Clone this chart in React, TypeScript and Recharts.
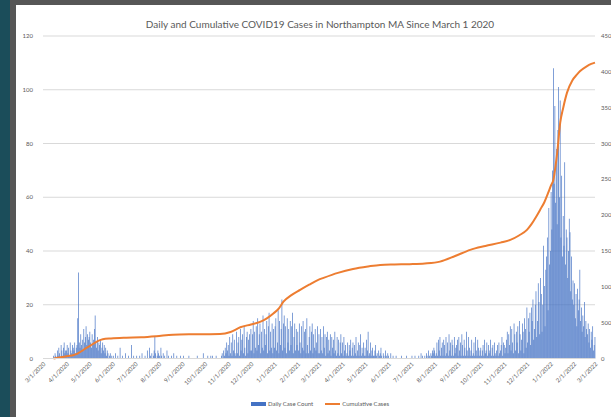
import { ComposedChart, Bar, Line, XAxis, YAxis, CartesianGrid } from 'recharts';

// month tick labels on the date axis
const tickLabels = [
  '3/1/2020', '4/1/2020', '5/1/2020', '6/1/2020', '7/1/2020', '8/1/2020', '9/1/2020',
  '10/1/2020', '11/1/2020', '12/1/2020', '1/1/2021', '2/1/2021', '3/1/2021', '4/1/2021',
  '5/1/2021', '6/1/2021', '7/1/2021', '8/1/2021', '9/1/2021', '10/1/2021', '11/1/2021',
  '12/1/2021', '1/1/2022', '2/1/2022', '3/1/2022',
];

// daily case counts, one array per month
const mar20 = [0, 0, 0, 0, 0, 0, 0, 0, 0, 0, 0, 0, 0, 0, 1, 0, 2, 1, 0, 3, 1, 4, 2, 0, 5, 3, 1, 4, 6, 2, 3];
const apr20 = [3, 5, 2, 4, 1, 6, 3, 2, 5, 4, 3, 6, 2, 4, 5, 15, 32, 6, 4, 9, 5, 7, 3, 11, 6, 8, 12, 5, 9, 7];
const may20 = [8, 10, 6, 4, 9, 5, 7, 11, 16, 6, 4, 8, 3, 6, 5, 7, 2, 4, 6, 3, 5, 2, 4, 1, 3, 2, 0, 1, 2, 0, 1];
const jun20 = [0, 1, 0, 0, 2, 0, 0, 1, 0, 0, 4, 0, 0, 1, 0, 0, 0, 2, 0, 0, 0, 1, 0, 0, 0, 5, 0, 0, 1, 0];
const jul20 = [0, 0, 1, 0, 0, 0, 1, 0, 0, 2, 0, 0, 0, 1, 0, 0, 3, 0, 0, 4, 1, 0, 2, 0, 1, 3, 8, 2, 0, 1, 3];
const aug20 = [2, 1, 0, 4, 1, 0, 2, 0, 1, 0, 0, 3, 0, 1, 0, 0, 0, 1, 0, 0, 2, 0, 0, 0, 1, 0, 0, 0, 0, 1, 0];
const sep20 = [0, 0, 1, 0, 0, 0, 0, 0, 0, 1, 0, 0, 0, 0, 0, 0, 0, 0, 0, 0, 1, 0, 0, 0, 0, 0, 0, 0, 2, 0];
const oct20 = [0, 0, 0, 0, 1, 0, 0, 0, 1, 0, 1, 0, 0, 0, 0, 1, 0, 0, 0, 0, 0, 0, 1, 2, 0, 3, 1, 4, 2, 6, 3];
const nov20 = [5, 1, 8, 2, 6, 1, 9, 3, 7, 2, 1, 10, 2, 6, 8, 1, 11, 3, 7, 9, 2, 12, 4, 1, 8, 10, 2, 7, 9, 3];
const dec20 = [11, 3, 9, 14, 2, 10, 4, 12, 3, 15, 5, 9, 13, 2, 10, 4, 16, 3, 11, 5, 9, 14, 2, 12, 17, 3, 10, 4, 13, 2, 11];
const jan21 = [4, 12, 15, 3, 6, 18, 2, 14, 5, 11, 22, 3, 13, 16, 4, 12, 2, 15, 6, 11, 3, 14, 5, 12, 17, 2, 8, 13, 3, 11, 5];
const feb21 = [10, 3, 13, 6, 2, 12, 4, 14, 3, 10, 11, 2, 15, 5, 2, 8, 12, 3, 10, 13, 2, 9, 4, 11, 3, 6, 12, 2];
const mar21 = [9, 2, 11, 3, 8, 2, 12, 4, 9, 1, 8, 10, 2, 7, 3, 9, 1, 8, 4, 7, 2, 10, 3, 1, 8, 2, 7, 1, 6, 9, 2];
const apr21 = [6, 1, 8, 3, 5, 1, 2, 6, 1, 5, 3, 7, 1, 4, 6, 1, 5, 2, 8, 1, 3, 6, 1, 5, 9, 1, 4, 2, 6, 1];
const may21 = [4, 1, 7, 3, 10, 1, 2, 6, 1, 3, 4, 1, 1, 3, 5, 1, 2, 0, 3, 1, 2, 4, 1, 0, 2, 1, 0, 3, 1, 0, 2];
const jun21 = [1, 0, 0, 2, 0, 0, 1, 0, 0, 0, 1, 0, 0, 0, 0, 0, 0, 1, 0, 0, 0, 0, 0, 0, 1, 0, 0, 0, 0, 0];
const jul21 = [0, 1, 0, 0, 0, 1, 0, 0, 0, 0, 1, 0, 0, 2, 0, 1, 0, 0, 1, 0, 2, 1, 0, 3, 1, 0, 2, 1, 3, 2, 4];
const aug21 = [3, 1, 2, 6, 1, 7, 3, 8, 1, 4, 6, 1, 7, 5, 1, 8, 2, 6, 1, 9, 3, 6, 1, 7, 5, 1, 8, 2, 4, 5, 7];
const sep21 = [1, 8, 3, 6, 1, 9, 5, 1, 7, 4, 1, 10, 3, 1, 8, 4, 1, 3, 7, 1, 2, 6, 1, 8, 3, 1, 7, 4, 1, 3];
const oct21 = [4, 1, 3, 5, 1, 7, 2, 3, 6, 1, 5, 2, 3, 7, 1, 4, 5, 1, 6, 2, 1, 3, 5, 1, 6, 2, 3, 5, 8, 1, 6];
const nov21 = [5, 2, 4, 7, 10, 2, 9, 5, 12, 3, 11, 6, 2, 13, 9, 3, 10, 6, 12, 2, 14, 9, 3, 7, 13, 10, 2, 15, 11, 4];
const dec21 = [19, 6, 15, 10, 17, 5, 19, 14, 22, 7, 11, 20, 25, 8, 14, 28, 21, 9, 30, 24, 10, 20, 42, 27, 12, 33, 38, 45, 18, 56, 35];
const jan22 = [40, 62, 48, 70, 108, 65, 94, 58, 78, 50, 85, 101, 60, 96, 45, 68, 38, 53, 42, 73, 35, 48, 45, 30, 40, 52, 47, 25, 38, 22, 29];
const feb22 = [20, 28, 15, 24, 12, 26, 18, 22, 33, 14, 19, 10, 16, 12, 21, 8, 14, 11, 9, 13, 6, 11, 4, 10, 7, 12, 3, 5];
const mar22 = [8];

// cumulative cases, read at a set of dates
const cumulativeDates = [
  '3/15/2020', '3/26/2020', '4/3/2020', '4/10/2020', '4/14/2020', '4/17/2020', '4/22/2020', '4/27/2020',
  '5/2/2020', '5/8/2020', '5/13/2020', '5/19/2020', '5/30/2020', '6/19/2020', '7/9/2020', '7/29/2020',
  '8/20/2020', '9/17/2020', '10/21/2020', '11/4/2020', '11/17/2020', '12/1/2020', '12/13/2020', '12/22/2020',
  '12/31/2020', '1/7/2021', '1/13/2021', '1/23/2021', '2/4/2021', '2/16/2021', '2/28/2021', '3/7/2021',
  '3/26/2021', '4/15/2021', '5/5/2021', '5/21/2021', '6/9/2021', '6/29/2021', '7/19/2021', '8/8/2021',
  '8/28/2021', '9/17/2021', '10/7/2021', '10/27/2021', '11/9/2021', '11/21/2021', '12/1/2021', '12/7/2021',
  '12/13/2021', '12/19/2021', '12/24/2021', '12/29/2021', '1/2/2022', '1/5/2022', '1/8/2022', '1/10/2022',
  '1/14/2022', '1/18/2022', '1/23/2022', '1/30/2022', '2/5/2022', '2/9/2022', '2/18/2022', '2/24/2022',
  '3/1/2022',
];
const cumulativeCases = [
  0, 20, 35, 45, 60, 77, 110, 145,
  175, 215, 245, 268, 280, 290, 295, 310,
  332, 338, 342, 370, 436, 475, 510, 560,
  631, 700, 793, 880, 957, 1030, 1097, 1125,
  1195, 1250, 1285, 1306, 1312, 1316, 1325, 1352,
  1430, 1516, 1570, 1617, 1655, 1720, 1795, 1875,
  1975, 2085, 2180, 2310, 2420, 2494, 2700, 2870,
  3290, 3500, 3710, 3880, 3960, 4007, 4077, 4110,
  4128,
];

const leftTicks = [0, 20, 40, 60, 80, 100, 120];
const rightTicks = [0, 500, 1000, 1500, 2000, 2500, 3000, 3500, 4000, 4500];

const START = Date.UTC(2020, 2, 1);
const dayOf = (s: string) => {
  const [m, d, y] = s.split('/').map(Number);
  return Math.round((Date.UTC(y, m - 1, d) - START) / 86400000);
};

const dailyCases = [
  mar20, apr20, may20, jun20, jul20, aug20, sep20, oct20, nov20, dec20,
  jan21, feb21, mar21, apr21, may21, jun21, jul21, aug21, sep21, oct21, nov21, dec21,
  jan22, feb22, mar22,
].flat();
const cumByDay = new Map(cumulativeDates.map((s, i) => [dayOf(s), cumulativeCases[i]]));
const data = dailyCases.map((v, day) => ({ day, daily: v, cumulative: cumByDay.get(day) ?? null }));
const tickDays = tickLabels.map(dayOf);
const labelByDay = new Map(tickDays.map((d, i) => [d, tickLabels[i]]));

const gray = '#595959';
const font = 'Lato, "Open Sans", sans-serif';

export default function App() {
  return (
    <div style={{ position: 'fixed', left: 0, top: 0, width: 611, height: 417, background: '#1b4d5a', overflow: 'hidden' }}>
      <div style={{ position: 'absolute', left: 10, top: 0, width: 601, height: 417, background: '#565656' }} />
      <div style={{ position: 'absolute', left: 16, top: 5, width: 595, height: 412, background: '#ffffff', fontFamily: font }}>
        <div style={{ position: 'absolute', left: 0, width: 608, top: 13, textAlign: 'center', fontSize: 10, color: gray, whiteSpace: 'nowrap' }}>
          Daily and Cumulative COVID19 Cases in Northampton MA Since March 1 2020
        </div>
        <ComposedChart width={595} height={412} data={data} margin={{ top: 31, right: 0, left: 0, bottom: 0 }} style={{ position: 'absolute', left: 0, top: 0 }}>
          <CartesianGrid yAxisId="left" vertical={false} stroke="#d9d9d9" />
          <XAxis
            dataKey="day"
            type="number"
            domain={[0, 730]}
            ticks={tickDays}
            interval={0}
            tickFormatter={(d: number) => labelByDay.get(d) ?? ''}
            height={58.5}
            angle={-45}
            textAnchor="end"
            tickSize={0}
            tickMargin={3}
            axisLine={{ stroke: '#d9d9d9' }}
            tick={{ fontSize: 6, fill: gray, fontFamily: font }}
          />
          <YAxis
            yAxisId="left"
            domain={[0, 120]}
            ticks={leftTicks}
            width={27}
            axisLine={false}
            tickLine={false}
            tickSize={0}
            tickMargin={10}
            tick={{ fontSize: 6, fill: gray, fontFamily: font }}
          />
          <YAxis
            yAxisId="right"
            orientation="right"
            domain={[0, 4500]}
            ticks={rightTicks}
            width={16}
            axisLine={false}
            tickLine={false}
            tickSize={0}
            tickMargin={6}
            tick={{ fontSize: 6, fill: gray, fontFamily: font, textAnchor: 'start' }}
          />
          <Bar yAxisId="left" dataKey="daily" name="Daily Case Count" fill="#4472c4" barSize={0.8} isAnimationActive={false} />
          <Line
            yAxisId="right"
            dataKey="cumulative"
            name="Cumulative Cases"
            type="monotone"
            stroke="#ed7d31"
            strokeWidth={2}
            dot={false}
            activeDot={false}
            connectNulls
            isAnimationActive={false}
          />
        </ComposedChart>
        <div style={{ position: 'absolute', top: 395, left: 0, width: 608, display: 'flex', justifyContent: 'center', alignItems: 'center', fontSize: 6, color: gray, gap: 12 }}>
          <span style={{ display: 'flex', alignItems: 'center' }}>
            <span style={{ display: 'inline-block', width: 15, height: 4, background: '#4472c4', marginRight: 2 }} />
            Daily Case Count
          </span>
          <span style={{ display: 'flex', alignItems: 'center' }}>
            <span style={{ display: 'inline-block', width: 15, height: 2, background: '#ed7d31', marginRight: 2 }} />
            Cumulative Cases
          </span>
        </div>
      </div>
    </div>
  );
}
